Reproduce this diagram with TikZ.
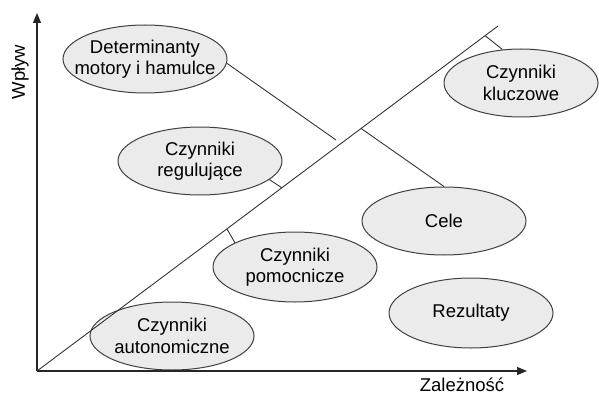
\documentclass[tikz,border=0pt]{standalone}
\usepackage{fontspec}
\setmainfont{Liberation Sans}
\usetikzlibrary{shapes.geometric,arrows.meta,calc}
\begin{document}
\begin{tikzpicture}[x=1pt,y=1pt,font=\fontsize{18.5}{21.5}\selectfont,
    czynnik/.style={ellipse,draw=black!75,fill=black!8,line width=1pt,minimum width=164pt,minimum height=68pt,inner sep=0pt},
    linia/.style={draw=black!80,line width=0.9pt},
    os/.style={draw=black!85,line width=1.1pt,-{Triangle[length=10pt,width=8pt]}}]
\useasboundingbox (0,0) rectangle (599,397);
\coordinate (O) at (37,26);
\coordinate (G) at (498,371);
\coordinate (Ytop) at (37,384);
\coordinate (Xend) at (527,26);
% czynniki
\node[czynnik,label={[align=center]center:Determinanty\\motory i hamulce}] (det) at (145,338) {};
\node[czynnik,label={[align=center]center:Czynniki\\regulujące}] (reg) at (200,236) {};
\node[czynnik,minimum width=154pt,label={[align=center]center:Czynniki\\kluczowe}] (klu) at (521,314) {};
\node[czynnik,label={[align=center]center:Cele}] (cele) at (444,176) {};
\node[czynnik,minimum height=70pt,label={[align=center]center:Czynniki\\pomocnicze}] (pom) at (295,130) {};
\node[czynnik,minimum height=70pt,label={[align=center]center:Rezultaty}] (rez) at (471,84) {};
\node[czynnik,label={[align=center]center:Czynniki\\autonomiczne}] (aut) at (172,61) {};
% osie
\draw[os] (O) -- (Ytop);
\draw[os] (O) -- (Xend);
\node[rotate=90] (wplyw) at (20,325) {Wpływ};
\node (zal) at (462,12) {Zależność};
% przekatna i odcinki
\draw[linia] (O) -- (G);
\coordinate (tklu) at ($(O)!0.972!(G)$);
\coordinate (treg) at ($(O)!0.531!(G)$);
\coordinate (tpom) at ($(O)!0.412!(G)$);
\coordinate (M) at ($(O)!0.703!(G)$);
\coordinate (L) at (336,257);
\draw[linia] (tklu) -- (klu.119);
\draw[linia] (treg) -- (reg.-15);
\draw[linia] (tpom) -- (pom.158);
\draw[linia] (det.-3) -- (L);
\draw[linia] (M) -- (cele.north);
\end{tikzpicture}
\end{document}
